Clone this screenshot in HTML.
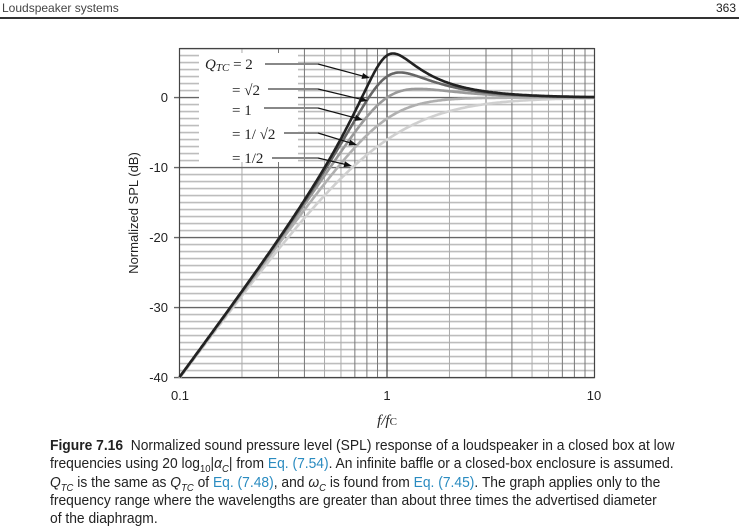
<!DOCTYPE html>
<html><head><meta charset="utf-8"><style>
body{margin:0;background:#fff;width:744px;height:531px;overflow:hidden;position:relative;font-family:"Liberation Sans",sans-serif}
.hdr{position:absolute;top:1px;font-size:12px;color:#444}
.cap{position:absolute;left:50px;top:437px;width:666px;transform:scaleX(0.948);transform-origin:0 0;font-family:"Liberation Sans",sans-serif;font-size:14.6px;line-height:18.3px;color:#222}
.cap a{color:#2a8bc0}
.cap sub{font-size:10px;line-height:0}
</style></head><body>
<div class="hdr" style="left:2px">Loudspeaker systems</div>
<div class="hdr" style="right:8px;color:#222">363</div>
<div style="position:absolute;left:0;top:17px;width:739px;height:2px;background:#333"></div>
<svg id="s" width="744" height="531" style="position:absolute;left:0;top:0" xmlns="http://www.w3.org/2000/svg">
<g id="grid"></g>
<rect x="199" y="53" width="99" height="109" fill="#fff"/>
<g id="curves" fill="none" stroke-width="2.6" stroke-linejoin="round"></g>
<g font-family="Liberation Sans, sans-serif" font-size="13" fill="#222" text-anchor="end">
<text x="168" y="102">0</text><text x="168" y="172">-10</text><text x="168" y="242">-20</text><text x="168" y="312">-30</text><text x="168" y="382">-40</text>
</g>
<g font-family="Liberation Sans, sans-serif" font-size="13" fill="#222" text-anchor="middle">
<text x="180" y="400">0.1</text><text x="387" y="400">1</text><text x="594" y="400">10</text>
<text transform="translate(138,213) rotate(-90)">Normalized SPL (dB)</text>
</g>
<text x="387" y="425" text-anchor="middle" font-family="Liberation Serif, serif" font-style="italic" font-size="15" fill="#222">f/f<tspan font-size="11" font-style="normal">C</tspan></text>
<g font-family="Liberation Serif, serif" font-size="15" fill="#222">
<text x="205" y="69"><tspan font-style="italic">Q</tspan><tspan font-style="italic" font-size="11" dy="2">TC</tspan><tspan dy="-2"> = 2</tspan></text>
<text x="232" y="95">= √2</text>
<text x="232" y="115">= 1</text>
<text x="232" y="139">= 1/ √2</text>
<text x="232" y="163">= 1/2</text>
</g>
<g stroke="#888" stroke-width="2">
<line x1="265" y1="64" x2="318" y2="64"/><line x1="268" y1="89" x2="318" y2="89"/><line x1="264" y1="108" x2="318" y2="108"/><line x1="284" y1="133" x2="318" y2="133"/><line x1="272" y1="158" x2="318" y2="158"/>
</g>
<g stroke="#111" stroke-width="1.2" fill="#111" id="arr"></g>
</svg>
<div class="cap"><b>Figure 7.16</b>&nbsp; Normalized sound pressure level (SPL) response of a loudspeaker in a closed box at low frequencies using 20 log<sub>10</sub>|<i>α<sub>C</sub></i>| from <a>Eq. (7.54)</a>. An infinite baffle or a closed-box enclosure is assumed. <i>Q<sub>TC</sub></i> is the same as <i>Q<sub>TC</sub></i> of <a>Eq. (7.48)</a>, and <i>ω<sub>C</sub></i> is found from <a>Eq. (7.45)</a>. The graph applies only to the frequency range where the wavelengths are greater than about three times the advertised diameter<br>of the diaphragm.</div>
<script>
var NS="http://www.w3.org/2000/svg";
function el(p,t,a){var e=document.createElementNS(NS,t);for(var k in a)e.setAttribute(k,a[k]);p.appendChild(e);return e;}
var L=179.5,R=594.5,D=207.5,Y0=97.6,K=7,T=48.6,B=377.6;
function X(f){return L+D*Math.log10(f/0.1);}
function Y(db){return Y0-K*db;}
var g=document.getElementById('grid');
for(var d=-40;d<=7;d++){if(d%10==0)continue;el(g,'line',{x1:L,x2:R,y1:Y(d),y2:Y(d),stroke:'#bdbdbd','stroke-width':1.6});}
[0.1,1].forEach(function(b){for(var m=2;m<=9;m++){var x=X(b*m);el(g,'line',{x1:x,x2:x,y1:T,y2:B,stroke:(m==2||m==5||m==6)?'#aaa':'#777','stroke-width':1});}});
for(var d=-40;d<=0;d+=10)el(g,'line',{x1:174,x2:R,y1:Y(d),y2:Y(d),stroke:'#666','stroke-width':1.4});
el(g,'line',{x1:X(1),x2:X(1),y1:T,y2:B,stroke:'#444','stroke-width':1.2});
el(g,'rect',{x:L,y:T,width:R-L,height:B-T,fill:'none',stroke:'#444','stroke-width':1.2});
var cs=[[0.5,'#d0d0d0'],[0.7071,'#b0b0b0'],[1,'#9a9a9a'],[1.4142,'#666'],[2,'#222']];
var cg=document.getElementById('curves');
cs.forEach(function(c){var Q=c[0],p='';for(var i=0;i<=400;i++){var f=0.1*Math.pow(100,i/400),x2=f*f;var db=10*Math.log10(x2*x2/((1-x2)*(1-x2)+x2/(Q*Q)));p+=(i?'L':'M')+X(f).toFixed(1)+','+Y(db).toFixed(1);}el(cg,'path',{d:p,stroke:c[1]});});
var ag=document.getElementById('arr');
[[318,64,370,78],[318,89,368,101],[318,108,363,120],[318,133,357,145],[318,158,352,166]].forEach(function(a){var dx=a[2]-a[0],dy=a[3]-a[1],l=Math.hypot(dx,dy),ux=dx/l,uy=dy/l;el(ag,'line',{x1:a[0],y1:a[1],x2:a[2]-ux*6,y2:a[3]-uy*6});var bx=a[2]-ux*8,by=a[3]-uy*8;el(ag,'polygon',{points:a[2]+','+a[3]+' '+(bx-uy*3)+','+(by+ux*3)+' '+(bx+uy*3)+','+(by-ux*3),stroke:'none'});});
</script>
</body></html>
